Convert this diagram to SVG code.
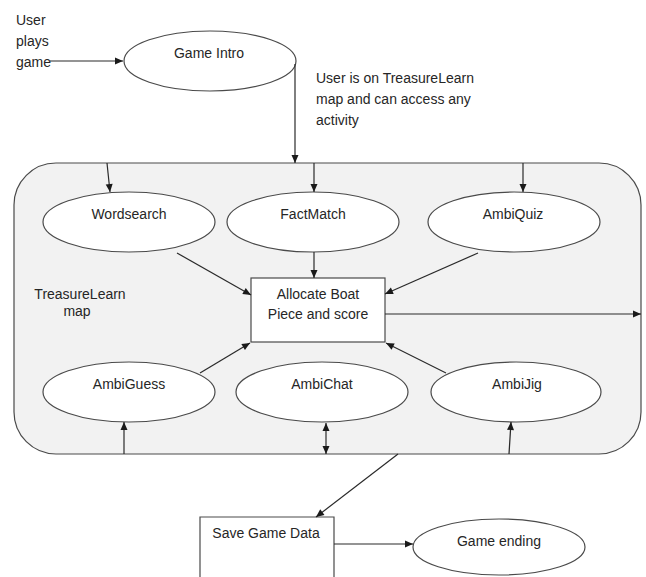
<svg xmlns="http://www.w3.org/2000/svg" width="646" height="577" viewBox="0 0 646 577">
<style>
.t{font-family:"Liberation Sans",Arial,sans-serif;font-size:14px;fill:#262626}
.c{text-anchor:middle}
.n{fill:#fff;stroke:#4a4a4a;stroke-width:1.2}
.e{fill:none;stroke:#2a2a2a;stroke-width:1.2}
</style>
<defs>
<marker id="ah" markerUnits="userSpaceOnUse" markerWidth="10" markerHeight="10" viewBox="0 0 10 10" refX="9" refY="5" orient="auto">
<path d="M1,1.5 L9,5 L1,8.5 Z" fill="#1a1a1a"/>
</marker>
<marker id="as" markerUnits="userSpaceOnUse" markerWidth="10" markerHeight="10" viewBox="0 0 10 10" refX="1" refY="5" orient="auto">
<path d="M9,1.5 L1,5 L9,8.5 Z" fill="#1a1a1a"/>
</marker>
</defs>
<rect width="646" height="577" fill="#fff"/>
<g id="map">
<rect x="14" y="163" width="627" height="291" rx="42" ry="42" fill="#f2f2f2" stroke="#4a4a4a" stroke-width="1.2"/>
<text class="t c" x="80" y="299">TreasureLearn</text>
<text class="t c" x="77" y="316">map</text>
</g>
<g id="labels">
<text class="t" x="16" y="25">User</text>
<text class="t" x="16" y="46">plays</text>
<text class="t" x="16" y="67">game</text>
<text class="t" x="316" y="83">User is on TreasureLearn</text>
<text class="t" x="316" y="104">map and can access any</text>
<text class="t" x="316" y="125">activity</text>
</g>
<g id="game-intro">
<ellipse class="n" cx="210" cy="61" rx="86" ry="30"/>
<text class="t c" x="209" y="58">Game Intro</text>
</g>
<g id="wordsearch">
<ellipse class="n" cx="129" cy="222" rx="86" ry="30"/>
<text class="t c" x="129" y="219">Wordsearch</text>
</g>
<g id="factmatch">
<ellipse class="n" cx="313" cy="222" rx="86" ry="30"/>
<text class="t c" x="313" y="219">FactMatch</text>
</g>
<g id="ambiquiz">
<ellipse class="n" cx="514" cy="222" rx="86" ry="30"/>
<text class="t c" x="513" y="219">AmbiQuiz</text>
</g>
<g id="allocate">
<rect class="n" x="251" y="278" width="134" height="64"/>
<text class="t c" x="318" y="299">Allocate Boat</text>
<text class="t c" x="318" y="319">Piece and score</text>
</g>
<g id="ambiguess">
<ellipse class="n" cx="129" cy="392" rx="86" ry="30"/>
<text class="t c" x="129" y="389">AmbiGuess</text>
</g>
<g id="ambichat">
<ellipse class="n" cx="322" cy="392" rx="86" ry="30"/>
<text class="t c" x="322" y="389">AmbiChat</text>
</g>
<g id="ambijig">
<ellipse class="n" cx="516" cy="392" rx="85" ry="30"/>
<text class="t c" x="517" y="389">AmbiJig</text>
</g>
<g id="save">
<path class="n" d="M200,580 V517 H334 V580"/>
<text class="t c" x="266" y="538">Save Game Data</text>
</g>
<g id="game-ending">
<ellipse class="n" cx="499" cy="547" rx="86" ry="28"/>
<text class="t c" x="499" y="546">Game ending</text>
</g>
<g id="connectors">
<path class="e" d="M50,61 H123" marker-end="url(#ah)"/>
<path class="e" d="M295,64 V163" marker-end="url(#ah)"/>
<path class="e" d="M107,163 L110,192" marker-end="url(#ah)"/>
<path class="e" d="M314,163 V192" marker-end="url(#ah)"/>
<path class="e" d="M523,163 V192" marker-end="url(#ah)"/>
<path class="e" d="M314,252 V278" marker-end="url(#ah)"/>
<path class="e" d="M177,253 L251,295" marker-end="url(#ah)"/>
<path class="e" d="M478,253 L385,294" marker-end="url(#ah)"/>
<path class="e" d="M385,314 H641" marker-end="url(#ah)"/>
<path class="e" d="M200,373 L250,343" marker-end="url(#ah)"/>
<path class="e" d="M446,373 L386,343" marker-end="url(#ah)"/>
<path class="e" d="M124,454 V422" marker-end="url(#ah)"/>
<path class="e" d="M326,423 V454" marker-start="url(#as)" marker-end="url(#ah)"/>
<path class="e" d="M509,454 L511,422" marker-end="url(#ah)"/>
<path class="e" d="M398,454 L316,517" marker-end="url(#ah)"/>
<path class="e" d="M334,544 H413" marker-end="url(#ah)"/>
</g>
</svg>
